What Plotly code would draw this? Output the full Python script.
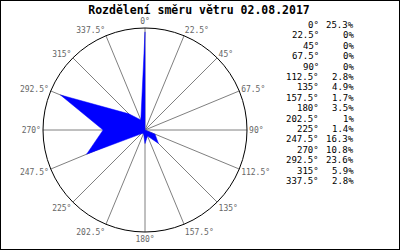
import plotly.graph_objects as go

title_text = "Rozdělení směru větru 02.08.2017"
directions = [0, 22.5, 45, 67.5, 90, 112.5, 135, 157.5, 180, 202.5, 225, 247.5, 270, 292.5, 315, 337.5]
percentages = [25.3, 0, 0, 0, 0, 2.8, 4.9, 1.7, 3.5, 1, 1.4, 16.3, 10.8, 23.6, 5.9, 2.8]
tick_labels = [f"{d:g}°" for d in directions]
pct_labels = [f"{p:g}%" for p in percentages]

W, H = 400, 250
fig = go.Figure()
fig.add_trace(go.Scatterpolar(
    r=percentages + [percentages[0]],
    theta=directions + [directions[0]],
    mode="lines",
    fill="toself",
    fillcolor="#0000ff",
    line=dict(color="#0000ff", width=0.5),
    hoverinfo="skip",
    showlegend=False,
))

cx, cy, R = 145, 130, 102
fig.update_layout(
    width=W, height=H,
    margin=dict(l=0, r=0, t=0, b=0),
    paper_bgcolor="white",
    plot_bgcolor="white",
    title=dict(text="<b>" + title_text + "</b>", x=0.4975, xanchor="center", y=1 - 9.5 / H, yanchor="middle",
               font=dict(family="DejaVu Sans Mono", size=11.5, color="black")),
    polar=dict(
        domain=dict(x=[(cx - R) / W, (cx + R) / W], y=[1 - (cy + R) / H, 1 - (cy - R) / H]),
        bgcolor="white",
        radialaxis=dict(visible=False, range=[0, 26.3]),
        angularaxis=dict(
            rotation=90, direction="clockwise",
            tickmode="array", tickvals=directions, ticktext=tick_labels,
            showgrid=True, gridcolor="#808080", gridwidth=1,
            showline=True, linecolor="black", linewidth=1,
            ticks="", tickfont=dict(family="DejaVu Sans Mono", size=8, color="#666666"),
        ),
    ),
    shapes=[dict(type="rect", xref="paper", yref="paper", x0=0, x1=1, y0=0, y1=1,
                 line=dict(color="black", width=2))],
)

annotations = []
y0, dy = 25, 10.4
for i, (a, p) in enumerate(zip(tick_labels, pct_labels)):
    y = 1 - (y0 + i * dy) / H
    annotations.append(dict(text=a, x=321 / W, y=y, xref="paper", yref="paper", xanchor="right", yanchor="middle",
                            showarrow=False, font=dict(family="DejaVu Sans Mono", size=9, color="black")))
    annotations.append(dict(text=p, x=356 / W, y=y, xref="paper", yref="paper", xanchor="right", yanchor="middle",
                            showarrow=False, font=dict(family="DejaVu Sans Mono", size=9, color="black")))
fig.update_layout(annotations=annotations)

fig.write_html("out.html")
